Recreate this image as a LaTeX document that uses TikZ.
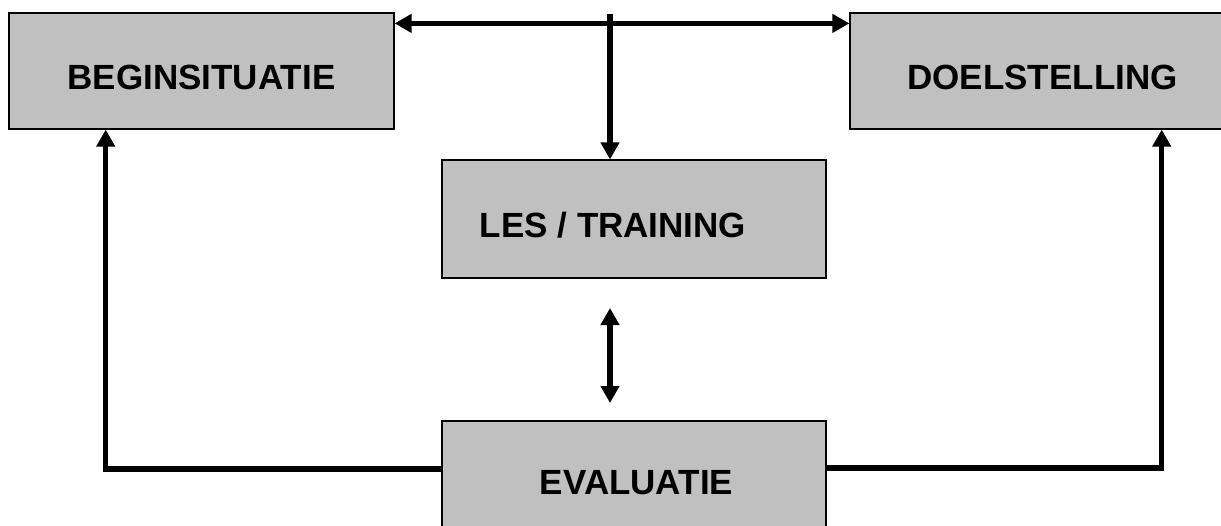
\documentclass[tikz,border=0pt]{standalone}
\usepackage{fontspec}
\setmainfont{Liberation Sans}
\usetikzlibrary{arrows.meta}
\definecolor{boxgray}{HTML}{C0C0C0}
\tikzset{
  box/.style={draw=black, line width=1.2pt, fill=boxgray, inner sep=0pt, minimum width=384pt},
  lbl/.style={font=\fontsize{35}{40}\selectfont\bfseries, inner sep=0pt},
  conn/.style={line width=5.5pt, line join=miter, -{Triangle[width=18pt,length=17pt]}},
  dconn/.style={line width=5.5pt, {Triangle[width=18pt,length=17pt]}-{Triangle[width=18pt,length=17pt]}}
}
\begin{document}
\begin{tikzpicture}[x=1pt,y=-1pt]
\path[use as bounding box, clip] (0,0) rectangle (1221,525);
% boxes
\node[box, minimum width=385pt, minimum height=116pt] (beg) at (201.5,71) {};
\node[box, minimum width=385pt, minimum height=116pt] (doel) at (1042.5,71) {};
\node[box, minimum width=384pt, minimum height=118pt] (les) at (634,219) {};
\node[box, minimum width=384pt, minimum height=118pt] (ev) at (634,480) {};
% labels
\node[lbl] (tbeg) at (201.5,77.5) {BEGINSITUATIE};
\node[lbl] (tdoel) at (1042.5,77.5) {DOELSTELLING};
\node[lbl] (tles) at (613,225) {LES / TRAINING};
\node[lbl] (tev) at (636.5,483) {EVALUATIE};
% connectors
\coordinate (top) at (610,14);
\coordinate (ma) at (610,308);
\coordinate (mb) at (610,403);
\coordinate (lj) at (105.7,469);
\coordinate (rj) at (1161.7,468);
\draw[dconn] ([yshift=-11pt]beg.north east) -- ([yshift=-11pt]doel.north west);
\draw[conn] (top) -- (top |- les.north);
\draw[dconn] (ma) -- (mb);
\draw[conn] (ev.west |- lj) -- (lj) -- (lj |- beg.south);
\draw[conn] (ev.east |- rj) -- (rj) -- (rj |- doel.south);
\end{tikzpicture}
\end{document}
